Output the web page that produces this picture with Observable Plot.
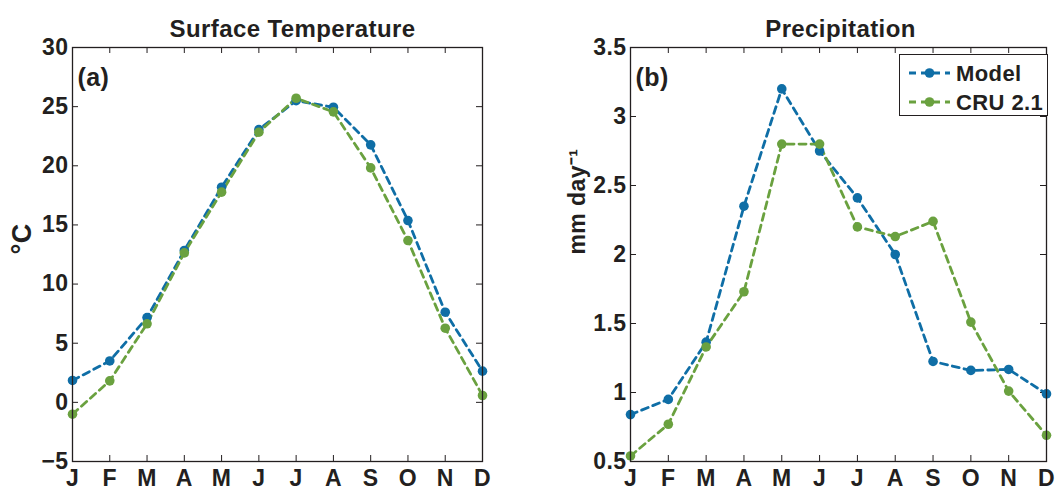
<!DOCTYPE html>
<html>
<head>
<meta charset="utf-8">
<script src="https://cdn.jsdelivr.net/npm/d3@7"></script>
<script src="https://cdn.jsdelivr.net/npm/@observablehq/plot@0.6"></script>
<style>
  html, body { margin: 0; padding: 0; background: #fff; }
  #wrap { position: relative; width: 1063px; height: 491px; overflow: hidden; font-family: "Liberation Sans", Arial, sans-serif; }
  #left, #right { position: absolute; top: 0; }
  #left { left: 0; }
  #right { left: 531px; }
  #legend { position: absolute; left: 899px; top: 54px; width: 147px; height: 60px; border: 1.5px solid #231f20; background: #fff; }
  #legend svg { display: block; }
  svg text { letter-spacing: 0.4px; }
</style>
</head>
<body>
<div id="wrap">
  <div id="left"></div>
  <div id="right"></div>
  <div id="legend"></div>
</div>
<script>
const months = [1,2,3,4,5,6,7,8,9,10,11,12];
const monthLabels = ["J","F","M","A","M","J","J","A","S","O","N","D"];

const tempModel = [1.85, 3.5, 7.17, 12.84, 18.19, 23.06, 25.5, 24.95, 21.77, 15.37, 7.62, 2.64];
const tempCRU   = [-1.0, 1.82, 6.64, 12.64, 17.77, 22.84, 25.71, 24.56, 19.82, 13.68, 6.27, 0.58];

const precModel = [0.84, 0.95, 1.365, 2.35, 3.20, 2.75, 2.41, 2.0, 1.225, 1.16, 1.167, 0.99];
const precCRU   = [0.54, 0.77, 1.33, 1.73, 2.80, 2.80, 2.20, 2.13, 2.24, 1.51, 1.01, 0.69];

const tempTicks = [-5, 0, 5, 10, 15, 20, 25, 30];
const precTicks = [0.5, 1, 1.5, 2, 2.5, 3, 3.5];
const precTickLabels = ["0.5","1","1.5","2","2.5","3","3.5"];

const seriesNames = ["Model", "CRU 2.1"];
const colors = ["#0f6ea6", "#6aa13f"];
const ink = "#231f20";

function rows(vals, name) {
  return months.map((m, i) => ({month: m, value: vals[i], series: name}));
}

function panel({width, mL, mR, yDomain, yTicks, yFormat, model, cru, title, titleDx, tag, ylabel, ylabelDx, ylabelSize}) {
  const height = 491, mT = 47, mB = 30;
  const fw = width - mL - mR, fh = height - mT - mB;
  const data = [...rows(model, seriesNames[0]), ...rows(cru, seriesNames[1])];
  const tick = 6;
  return Plot.plot({
    width, height,
    marginLeft: mL, marginRight: mR, marginTop: mT, marginBottom: mB,
    style: {fontFamily: "'Liberation Sans', Arial, sans-serif", fontWeight: "bold", fontSize: "23px", color: ink, background: "#fff", overflow: "visible"},
    x: {domain: [1, 12]},
    y: {domain: yDomain},
    color: {domain: seriesNames, range: colors},
    marks: [
      Plot.axisX(months, {tickSize: 0, tickPadding: 8, tickFormat: d => monthLabels[d - 1], label: null, fontSize: 23, fill: ink}),
      Plot.axisY(yTicks, {tickSize: 0, tickPadding: 4, tickFormat: yFormat, label: null, fontSize: 23, fill: ink}),
      // inward ticks on all four sides
      Plot.tickX(months, {x: d => d, insetTop: fh - tick, stroke: ink, strokeWidth: 1}),
      Plot.tickX(months, {x: d => d, insetBottom: fh - tick, stroke: ink, strokeWidth: 1}),
      Plot.tickY(yTicks, {y: d => d, insetRight: fw - tick, stroke: ink, strokeWidth: 1}),
      Plot.tickY(yTicks, {y: d => d, insetLeft: fw - tick, stroke: ink, strokeWidth: 1}),
      Plot.line(data, {x: "month", y: "value", z: "series", stroke: "series", strokeWidth: 2.8, strokeDasharray: "7,5"}),
      Plot.dot(data, {x: "month", y: "value", fill: "series", r: 4.8, stroke: "none"}),
      Plot.frame({stroke: ink, strokeWidth: 1.3}),
      Plot.text([title], {frameAnchor: "top", dx: titleDx, dy: -28, fontSize: 24, fontWeight: "bold", fill: ink}),
      Plot.text([tag], {frameAnchor: "top-left", dx: 5, dy: 21, textAnchor: "start", fontSize: 25, fontWeight: "bold", fill: ink}),
      Plot.text([ylabel], {frameAnchor: "left", dx: ylabelDx, rotate: -90, fontSize: ylabelSize, fontWeight: "bold", fill: ink})
    ]
  });
}

document.getElementById("left").append(panel({
  width: 531, mL: 72, mR: 49,
  yDomain: [-5, 30], yTicks: tempTicks, yFormat: d => d < 0 ? "\u2212" + Math.abs(d) : String(d),
  model: tempModel, cru: tempCRU,
  title: "Surface Temperature", titleDx: 15, tag: "(a)",
  ylabel: "\u00B0C", ylabelDx: -50, ylabelSize: 27
}));

document.getElementById("right").append(panel({
  width: 532, mL: 99, mR: 17,
  yDomain: [0.5, 3.5], yTicks: precTicks, yFormat: d => precTickLabels[precTicks.indexOf(d)],
  model: precModel, cru: precCRU,
  title: "Precipitation", titleDx: 2, tag: "(b)",
  ylabel: "mm day\u207B\u00B9", ylabelDx: -53, ylabelSize: 23
}));

// legend
const lg = d3.select("#legend").append("svg").attr("width", 147).attr("height", 60);
seriesNames.forEach((name, i) => {
  const y = 18 + i * 29;
  const g = lg.append("g");
  g.append("line").attr("x1", 9).attr("x2", 50).attr("y1", y).attr("y2", y)
    .attr("stroke", colors[i]).attr("stroke-width", 2.8).attr("stroke-dasharray", "7,5");
  g.append("circle").attr("cx", 29.5).attr("cy", y).attr("r", 4.8).attr("fill", colors[i]);
  g.append("text").attr("x", 56).attr("y", y).attr("dy", "0.36em")
    .attr("font-family", "'Liberation Sans', Arial, sans-serif").attr("font-weight", "bold")
    .attr("font-size", 22).attr("fill", ink).text(name);
});
</script>
</body>
</html>
